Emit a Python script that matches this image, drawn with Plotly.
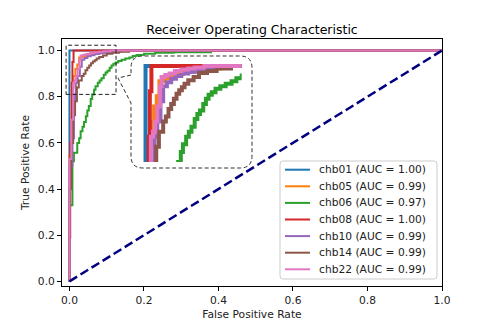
import plotly.graph_objects as go

# ROC curves (points are tops of each rise, drawn with hv steps)
patients = ["chb01", "chb05", "chb06", "chb08", "chb10", "chb14", "chb22"]
auc = [1.00, 0.99, 0.97, 1.00, 0.99, 0.99, 0.99]
colors = ["#1f77b4", "#ff7f0e", "#2ca02c", "#d62728", "#9467bd", "#8c564b", "#e377c2"]

fpr_chb01 = [0, 0, 1.0]
tpr_chb01 = [0, 1.0, 1.0]

fpr_chb05 = [0, 0, 0.004, 0.008, 0.011, 0.016, 0.021, 0.026, 0.035, 0.05, 0.07, 0.1, 0.14, 1.0]
tpr_chb05 = [0, 0.55, 0.7, 0.84, 0.89, 0.92, 0.94, 0.97, 0.976, 0.984, 0.99, 0.995, 1.0, 1.0]

fpr_chb06 = [0, 0, 0.008, 0.012, 0.021, 0.026, 0.03, 0.035, 0.039, 0.044,
             0.048, 0.052, 0.057, 0.061, 0.066, 0.07, 0.076, 0.081, 0.086, 0.092,
             0.097, 0.102, 0.108, 0.113, 0.118, 0.124, 0.131, 0.14, 0.15, 0.161,
             0.17, 0.18, 0.2, 0.23, 0.28, 0.38, 1.0]
tpr_chb06 = [0, 0.33, 0.52, 0.557, 0.6, 0.62, 0.65, 0.67, 0.69, 0.715,
             0.74, 0.76, 0.79, 0.81, 0.83, 0.845, 0.86, 0.87, 0.88, 0.895,
             0.905, 0.912, 0.925, 0.935, 0.943, 0.948, 0.955, 0.96, 0.965, 0.97,
             0.976, 0.981, 0.986, 0.99, 0.993, 1.0, 1.0]

fpr_chb08 = [0, 0, 0.002, 0.006, 0.008, 0.011, 1.0]
tpr_chb08 = [0, 0.19, 0.6, 0.86, 0.95, 1.0, 1.0]

fpr_chb10 = [0, 0, 0.008, 0.012, 0.015, 0.017, 0.022, 0.028, 0.033, 0.04,
             0.048, 0.057, 0.067, 0.08, 0.092, 0.11, 0.13, 1.0]
tpr_chb10 = [0, 0.5, 0.62, 0.75, 0.81, 0.86, 0.89, 0.93, 0.96, 0.968,
             0.975, 0.98, 0.985, 0.988, 0.991, 0.996, 1.0, 1.0]

fpr_chb14 = [0, 0, 0.005, 0.01, 0.015, 0.02, 0.025, 0.033, 0.038, 0.043,
             0.048, 0.053, 0.058, 0.063, 0.068, 0.073, 0.08, 0.09, 0.1, 0.115,
             0.133, 0.16, 1.0]
tpr_chb14 = [0, 0.4, 0.6, 0.72, 0.78, 0.84, 0.87, 0.89, 0.9, 0.915,
             0.925, 0.935, 0.945, 0.952, 0.958, 0.965, 0.972, 0.978, 0.986, 0.99,
             0.995, 1.0, 1.0]

fpr_chb22 = [0, 0, 0.005, 0.01, 0.014, 0.018, 0.022, 0.027, 0.03, 0.037,
             0.045, 0.055, 0.067, 0.08, 0.092, 0.11, 1.0]
tpr_chb22 = [0, 0.53, 0.7, 0.86, 0.87, 0.89, 0.92, 0.96, 0.978, 0.982,
             0.985, 0.99, 0.993, 0.995, 0.997, 1.0, 1.0]

fprs = [fpr_chb01, fpr_chb05, fpr_chb06, fpr_chb08, fpr_chb10, fpr_chb14, fpr_chb22]
tprs = [tpr_chb01, tpr_chb05, tpr_chb06, tpr_chb08, tpr_chb10, tpr_chb14, tpr_chb22]

diag = [0, 1]
ticks = [0.0, 0.2, 0.4, 0.6, 0.8, 1.0]

# page puts the plot 8px in from the top-left corner, so shrink the figure to fit
OFF = 8
W, H = 491, 327
L, R, T, B = 62, 49, 39, 41
pw, ph = W - L - R, H - T - B


def px(x):
    return (x - L) / pw


def py(y):
    return (H - B - y) / ph


font = "DejaVu Sans, Arial, sans-serif"
fig = go.Figure()

for i in range(len(patients)):
    fig.add_trace(go.Scatter(x=fprs[i], y=tprs[i], mode="lines", line_shape="hv",
                             line=dict(color=colors[i], width=2), showlegend=False))

fig.add_trace(go.Scatter(x=diag, y=diag, mode="lines", showlegend=False,
                         line=dict(color="navy", width=2.5, dash="9px,4px")))

# zoomed inset
for i in range(len(patients)):
    fig.add_trace(go.Scatter(x=fprs[i], y=tprs[i], mode="lines", line_shape="hv",
                             line=dict(color=colors[i], width=4),
                             xaxis="x2", yaxis="y2", showlegend=False))


def make_path(pts, close=True):
    path = ""
    for p in pts:
        coords = p[1:]
        s = []
        for j in range(0, len(coords), 2):
            s.append("%.4f,%.4f" % (px(coords[j]), py(coords[j + 1])))
        path += p[0] + " " + " ".join(s) + " "
    if close:
        path += "Z"
    return path


dash = "4px,2.5px"
# callout bubble around inset
bubble = [("M", 131, 75), ("L", 118, 78), ("L", 131, 103), ("L", 131, 156),
          ("Q", 131, 168, 143, 168), ("L", 240, 168), ("Q", 252, 168, 252, 156),
          ("L", 252, 68), ("Q", 252, 56, 240, 56), ("L", 143, 56), ("Q", 131, 56, 131, 68)]
fig.add_shape(type="path", path=make_path(bubble), xref="paper", yref="paper",
              line=dict(color="#333333", width=1, dash=dash))
fig.add_shape(type="rect", xref="x", yref="y", x0=-0.009, x1=0.125, y0=0.81, y1=1.023,
              line=dict(color="#222222", width=1, dash=dash))

# legend drawn by hand to match matplotlib spacing
lx0, lx1, ly0, ly1, rr = 280, 437, 161, 279, 3
box = [("M", lx0 + rr, ly0), ("L", lx1 - rr, ly0), ("Q", lx1, ly0, lx1, ly0 + rr),
       ("L", lx1, ly1 - rr), ("Q", lx1, ly1, lx1 - rr, ly1), ("L", lx0 + rr, ly1),
       ("Q", lx0, ly1, lx0, ly1 - rr), ("L", lx0, ly0 + rr), ("Q", lx0, ly0, lx0 + rr, ly0)]
fig.add_shape(type="path", path=make_path(box), xref="paper", yref="paper",
              line=dict(color="#cccccc", width=1), fillcolor="rgba(255,255,255,0.8)")
for i in range(len(patients)):
    yy = 169.7 + 16.6 * i
    fig.add_shape(type="line", xref="paper", yref="paper", x0=px(285), x1=px(310),
                  y0=py(yy), y1=py(yy), line=dict(color=colors[i], width=2))
    fig.add_annotation(x=px(317), y=py(yy), xref="paper", yref="paper",
                       xanchor="left", yanchor="middle", showarrow=False,
                       text="%s (AUC = %.2f)" % (patients[i], auc[i]),
                       font=dict(size=10.7, color="#222222"))

axis_common = dict(showgrid=False, zeroline=False, showline=True, mirror=True,
                   linecolor="black", linewidth=1, ticks="outside", ticklen=4,
                   tickcolor="black", tickvals=ticks, tickformat=".1f", automargin=False,
                   tickfont=dict(size=10.7, color="#222222"))

fig.update_layout(
    width=W - OFF, height=H - OFF,
    margin=dict(l=L - OFF, r=R, t=T - OFF, b=B),
    paper_bgcolor="white", plot_bgcolor="white",
    font=dict(family=font, size=10.7, color="#222222"),
    title=dict(text="Receiver Operating Characteristic", x=0.5, xref="paper",
               y=1 - (30 - OFF) / (H - OFF), yanchor="middle",
               font=dict(size=12.5, color="black")),
    xaxis=dict(range=[-0.02, 1.0], title=dict(text="False Positive Rate", standoff=4,
                                              font=dict(size=10.7)), **axis_common),
    yaxis=dict(range=[-0.02, 1.05], title=dict(text="True Positive Rate", standoff=6,
                                               font=dict(size=10.7)), **axis_common),
    xaxis2=dict(domain=[px(140.2), px(241.7)], range=[-0.01, 0.18], anchor="y2",
                visible=False),
    yaxis2=dict(domain=[py(162), py(55.9)], range=[0.81, 1.02], anchor="x2",
                visible=False),
    showlegend=False,
)

fig.write_html("out.html")
